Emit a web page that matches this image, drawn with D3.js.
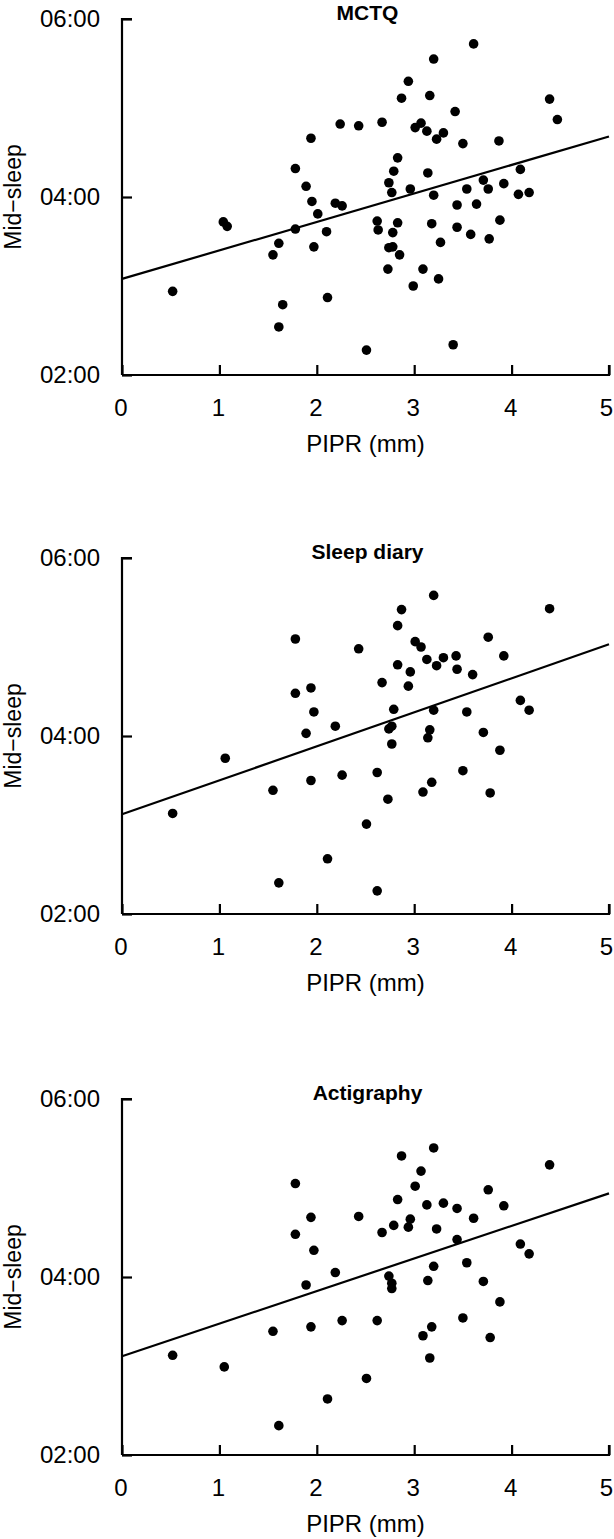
<!DOCTYPE html>
<html>
<head>
<meta charset="utf-8">
<script src="https://cdn.jsdelivr.net/npm/d3@7"></script>
<style>
  html, body { margin: 0; padding: 0; background: #fff; }
  svg { display: block; }
  text { font-family: "Liberation Sans", Arial, Helvetica, sans-serif; fill: #000; }
</style>
</head>
<body>
<svg id="chart" width="614" height="1539"></svg>
<script>
// ---------- DATA ----------
const panelTitles = ["MCTQ", "Sleep diary", "Actigraphy"];
const xLabel = "PIPR (mm)";
const yLabel = "Mid\u2212sleep";
const xTicks = [0, 1, 2, 3, 4, 5];
const yTicks = [2, 4, 6];
const yTickLabels = ["02:00", "04:00", "06:00"];

// MCTQ: PIPR (mm) and mid-sleep (decimal hours)
const mctqPIPR = [3.61,3.20,2.94,2.87,3.16,4.39,4.47,3.42,2.24,2.43,2.67,3.01,3.07,3.13,3.30,3.23,1.94,3.50,3.87,2.83,
  1.78,2.79,3.14,4.09,1.89,2.74,2.96,3.71,3.54,3.76,3.92,2.77,3.20,4.07,4.18,
  1.95,2.19,2.26,2.01,2.10,1.78,1.61,1.55,1.97,1.04,1.08,0.52,2.62,2.63,2.83,2.78,2.74,2.78,2.85,2.73,
  3.09,3.25,2.99,3.44,3.64,3.18,3.44,3.27,3.58,3.77,3.88,2.11,1.65,1.61,2.51,3.40];
const mctqMid = [5.72,5.55,5.30,5.11,5.14,5.10,4.87,4.96,4.82,4.80,4.84,4.78,4.83,4.74,4.72,4.65,4.66,4.60,4.63,4.44,
  4.32,4.29,4.27,4.31,4.12,4.16,4.09,4.19,4.09,4.09,4.15,4.05,4.02,4.03,4.05,
  3.95,3.93,3.90,3.81,3.61,3.64,3.48,3.35,3.44,3.72,3.67,2.94,3.73,3.63,3.71,3.60,3.43,3.44,3.35,3.19,
  3.19,3.08,3.00,3.91,3.92,3.70,3.66,3.49,3.58,3.53,3.74,2.87,2.79,2.54,2.28,2.34];

// Sleep diary
const diaryPIPR = [3.20,2.87,4.39,2.83,1.78,2.43,3.01,3.07,3.76,3.13,3.23,3.30,3.43,3.44,3.92,3.60,2.83,2.96,2.67,2.94,
  1.78,1.94,1.97,2.79,3.20,3.54,4.09,4.18,
  1.89,2.19,2.74,2.77,3.16,3.14,2.77,3.71,3.88,1.06,2.62,2.26,1.94,1.55,3.50,3.18,3.09,3.78,2.73,0.52,2.51,2.11,1.61,2.62];
const diaryMid = [5.58,5.42,5.43,5.24,5.09,4.98,5.06,5.00,5.11,4.86,4.79,4.88,4.90,4.75,4.90,4.69,4.80,4.72,4.60,4.56,
  4.48,4.54,4.27,4.30,4.29,4.27,4.40,4.29,
  4.03,4.11,4.08,4.11,4.07,3.98,3.91,4.04,3.84,3.75,3.59,3.56,3.50,3.39,3.61,3.48,3.37,3.36,3.29,3.13,3.01,2.62,2.35,2.26];

// Actigraphy
const actiPIPR = [3.20,2.87,4.39,3.07,3.01,1.78,2.83,3.76,3.13,3.30,3.44,3.92,1.94,2.43,3.61,2.96,2.79,2.94,3.23,2.67,
  1.78,3.44,4.09,1.97,4.18,3.54,3.20,2.19,2.74,1.89,2.77,2.77,3.14,3.71,
  3.88,2.62,2.26,1.94,1.55,3.50,3.18,3.09,3.78,3.16,0.52,1.05,2.51,2.11,1.61];
const actiMid = [5.45,5.36,5.26,5.19,5.02,5.05,4.87,4.98,4.81,4.83,4.77,4.80,4.67,4.68,4.66,4.65,4.58,4.56,4.54,4.50,
  4.48,4.42,4.37,4.30,4.26,4.16,4.12,4.05,4.01,3.91,3.93,3.87,3.96,3.95,
  3.72,3.51,3.51,3.44,3.39,3.54,3.44,3.34,3.32,3.09,3.12,2.99,2.86,2.63,2.33];

// Regression lines: predicted mid-sleep at PIPR = 0 and PIPR = 5
const fitStart = [3.08, 3.12, 3.11];
const fitEnd = [4.68, 5.03, 4.94];

const panelsX = [mctqPIPR, diaryPIPR, actiPIPR];
const panelsY = [mctqMid, diaryMid, actiMid];

// ---------- LAYOUT ----------
const svg = d3.select("#chart");
svg.append("rect").attr("width", 614).attr("height", 1539).attr("fill", "#fff");

const plotLeft = 122, plotRight = 609, plotH = 356;
const panelTops = [19, 558, 1099];
const fontSize = 24;

panelTitles.forEach((title, i) => {
  const top = panelTops[i];
  const x = d3.scaleLinear().domain([0, 5]).range([plotLeft, plotRight]);
  const y = d3.scaleLinear().domain([2, 6]).range([top + plotH, top]);
  const g = svg.append("g");

  // x axis (ticks inward)
  const xAxis = d3.axisBottom(x).tickValues(xTicks).tickSize(-10).tickPadding(24)
    .tickFormat(d3.format("d"));
  const gx = g.append("g").attr("transform", `translate(0,${top + plotH})`).call(xAxis);
  gx.select(".domain").attr("d", `M${plotLeft},0H${plotRight}V-10`).attr("stroke-width", 2.2)
    .attr("fill", "none").attr("stroke", "#000");
  gx.selectAll(".tick line").attr("stroke-width", 2.2).attr("stroke", "#000");
  gx.selectAll(".tick text").attr("font-size", fontSize).attr("font-family", "Liberation Sans, Arial, sans-serif")
    .attr("fill", "#000").attr("dx", (d) => (d === 5 ? -3 : -1.5));

  // y axis (ticks inward)
  const yAxis = d3.axisLeft(y).tickValues(yTicks).tickSize(-10).tickPadding(22)
    .tickFormat((d) => yTickLabels[yTicks.indexOf(d)]);
  const gy = g.append("g").attr("transform", `translate(${plotLeft},0)`).call(yAxis);
  gy.select(".domain").attr("d", `M10,${top}H0V${top + plotH}`).attr("stroke-width", 2.2)
    .attr("fill", "none").attr("stroke", "#000");
  gy.selectAll(".tick line").attr("stroke-width", 2.2).attr("stroke", "#000");
  gy.selectAll(".tick text").attr("font-size", fontSize).attr("font-family", "Liberation Sans, Arial, sans-serif")
    .attr("fill", "#000");

  // points
  const pts = panelsX[i].map((v, k) => ({ x: v, y: panelsY[i][k] }));
  g.append("g").selectAll("circle").data(pts).join("circle")
    .attr("cx", (d) => x(d.x)).attr("cy", (d) => y(d.y)).attr("r", 4.8).attr("fill", "#000");

  // regression line
  g.append("line")
    .attr("x1", x(0)).attr("y1", y(fitStart[i]))
    .attr("x2", x(5)).attr("y2", y(fitEnd[i]))
    .attr("stroke", "#000").attr("stroke-width", 2.2);

  // title
  g.append("text").attr("x", (plotLeft + plotRight) / 2 + 2).attr("y", top + 1)
    .attr("text-anchor", "middle").attr("font-weight", "bold").attr("font-size", 21)
    .text(title);

  // x label
  g.append("text").attr("x", (plotLeft + plotRight) / 2).attr("y", top + plotH + 77)
    .attr("text-anchor", "middle").attr("font-size", fontSize).text(xLabel);

  // y label
  g.append("text").attr("transform", `translate(21,${top + plotH / 2}) rotate(-90)`)
    .attr("text-anchor", "middle").attr("font-size", 23).text(yLabel);
});
</script>
</body>
</html>
